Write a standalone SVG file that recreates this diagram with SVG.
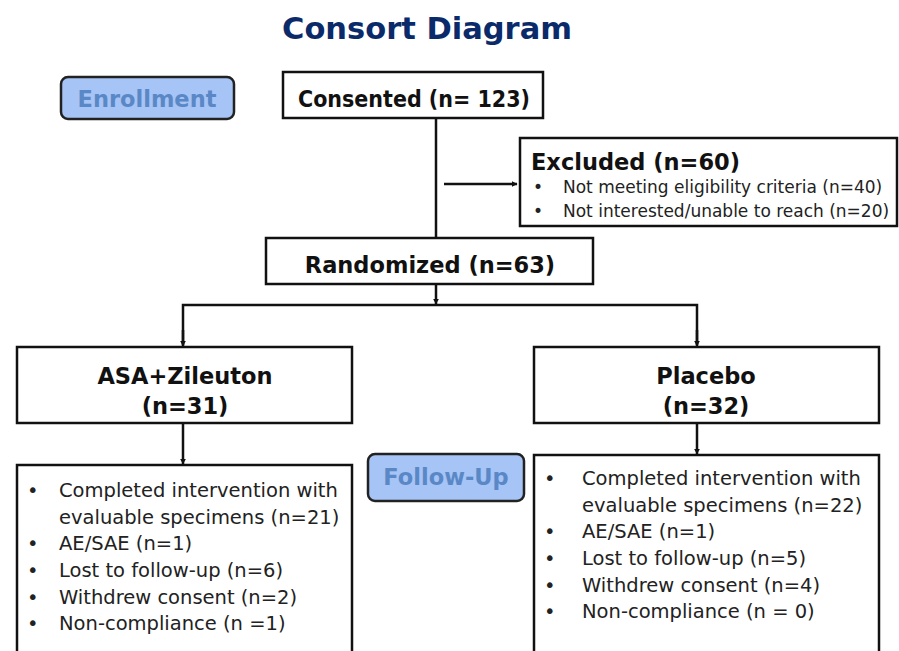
<svg xmlns="http://www.w3.org/2000/svg" width="899" height="651" viewBox="0 0 899 651">
  <defs>
    <marker id="arrow" viewBox="0 0 10 10" refX="9" refY="5" markerWidth="6" markerHeight="6" orient="auto" markerUnits="userSpaceOnUse">
      <path d="M0,0 L10,5 L0,10 z" fill="#111"/>
    </marker>
    <style>
      .box { fill: #fff; stroke: #111; stroke-width: 2.5; }
      .tag { fill: #a6c4f5; stroke: #222; stroke-width: 2.5; }
      .tagtxt { font-family: "DejaVu Sans", Verdana, sans-serif; font-weight: bold; font-size: 22.5px; fill: #5a88c6; text-anchor: middle; }
      .head { font-family: "DejaVu Sans", Verdana, sans-serif; font-weight: bold; font-size: 22.5px; fill: #111; }
      .mid { text-anchor: middle; }
      .item { font-family: "DejaVu Sans", Verdana, sans-serif; font-size: 19.5px; fill: #222; }
      .small { font-family: "DejaVu Sans", Verdana, sans-serif; font-size: 17px; fill: #222; }
      .line { fill: none; stroke: #111; stroke-width: 2.5; }
      .title { font-family: "DejaVu Sans", Verdana, sans-serif; font-weight: bold; font-size: 30.5px; fill: #0b2a6a; text-anchor: middle; }
    </style>
  </defs>

  <text class="title" x="427" y="39">Consort Diagram</text>

  <g id="connectors">
    <line class="line" x1="436" y1="118" x2="436" y2="238"/>
    <line class="line" x1="444" y1="184" x2="517" y2="184" marker-end="url(#arrow)"/>
    <line class="line" x1="436" y1="284" x2="436" y2="304" marker-end="url(#arrow)"/>
    <polyline class="line" points="183,345 183,305 697,305 697,345"/>
    <line class="line" x1="183" y1="330" x2="183" y2="346" marker-end="url(#arrow)"/>
    <line class="line" x1="697" y1="330" x2="697" y2="346" marker-end="url(#arrow)"/>
    <line class="line" x1="183" y1="423" x2="183" y2="464" marker-end="url(#arrow)"/>
    <line class="line" x1="697" y1="423" x2="697" y2="454" marker-end="url(#arrow)"/>
  </g>

  <g id="enrollment">
    <rect class="tag" x="61" y="77" width="173" height="42" rx="7"/>
    <text class="tagtxt" x="147" y="107">Enrollment</text>
  </g>

  <g id="consented">
    <rect class="box" x="283" y="72" width="260" height="46"/>
    <text class="head" x="298" y="107" textLength="232" lengthAdjust="spacingAndGlyphs">Consented (n= 123)</text>
  </g>

  <g id="excluded">
    <rect class="box" x="520" y="138" width="377" height="88"/>
    <text class="head" x="531" y="170">Excluded (n=60)</text>
    <text class="small" x="533" y="193">•</text>
    <text class="small" x="563" y="193">Not meeting eligibility criteria (n=40)</text>
    <text class="small" x="533" y="217">•</text>
    <text class="small" x="563" y="217">Not interested/unable to reach (n=20)</text>
  </g>

  <g id="randomized">
    <rect class="box" x="266" y="238" width="327" height="46"/>
    <text class="head mid" x="430" y="273">Randomized (n=63)</text>
  </g>

  <g id="asa-zileuton">
    <rect class="box" x="17" y="347" width="335" height="76"/>
    <text class="head mid" x="185" y="384">ASA+Zileuton</text>
    <text class="head mid" x="185" y="414">(n=31)</text>
  </g>

  <g id="placebo">
    <rect class="box" x="534" y="347" width="345" height="76"/>
    <text class="head mid" x="706" y="384">Placebo</text>
    <text class="head mid" x="706" y="414">(n=32)</text>
  </g>

  <g id="follow-up">
    <rect class="tag" x="368" y="454" width="156" height="47" rx="7"/>
    <text class="tagtxt" x="446" y="485">Follow-Up</text>
  </g>

  <g id="asa-outcomes">
    <rect class="box" x="17" y="465" width="335" height="190"/>
    <g class="item">
      <text x="27" y="497">•</text>
      <text x="59" y="497">Completed intervention with</text>
      <text x="59" y="524">evaluable specimens (n=21)</text>
      <text x="27" y="550">•</text>
      <text x="59" y="550">AE/SAE (n=1)</text>
      <text x="27" y="577">•</text>
      <text x="59" y="577">Lost to follow-up (n=6)</text>
      <text x="27" y="604">•</text>
      <text x="59" y="604">Withdrew consent (n=2)</text>
      <text x="27" y="630">•</text>
      <text x="59" y="630">Non-compliance (n =1)</text>
    </g>
  </g>

  <g id="placebo-outcomes">
    <rect class="box" x="534" y="455" width="345" height="200"/>
    <g class="item">
      <text x="544" y="485">•</text>
      <text x="582" y="485">Completed intervention with</text>
      <text x="582" y="512">evaluable specimens (n=22)</text>
      <text x="544" y="538">•</text>
      <text x="582" y="538">AE/SAE (n=1)</text>
      <text x="544" y="565">•</text>
      <text x="582" y="565">Lost to follow-up (n=5)</text>
      <text x="544" y="592">•</text>
      <text x="582" y="592">Withdrew consent (n=4)</text>
      <text x="544" y="618">•</text>
      <text x="582" y="618">Non-compliance (n = 0)</text>
    </g>
  </g>
</svg>
